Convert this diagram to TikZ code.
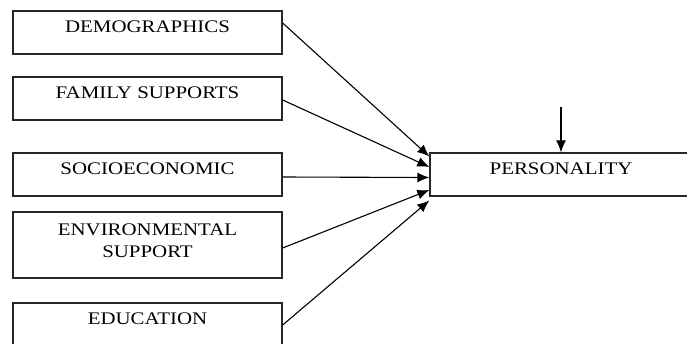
\documentclass[tikz,border=0pt]{standalone}
\usepackage{fontspec}
\setmainfont{Liberation Serif}[FakeStretch=1.18]
\usetikzlibrary{arrows.meta,calc}

\begin{document}
\begin{tikzpicture}[x=1pt, y=-1pt, >={Latex[length=12pt,width=10pt]},
  box/.style={draw=black!85, line width=1.3pt, minimum width=269pt, inner ysep=0pt,
    font=\fontsize{17.7}{22}\selectfont, text height=21.3pt, text depth=21.7pt},
  link/.style={->, line width=1.1pt}]
\useasboundingbox (0,0) rectangle (687,343);
\clip (0,0) rectangle (687,343);
\node[box](demo) at(147.5, 32.5) {DEMOGRAPHICS};
\node[box](family) at(147.5, 98.5) {FAMILY SUPPORTS};
\node[box](socio) at(147.5, 174.5) {SOCIOECONOMIC};
\node[box, align=center, text height=45pt, text depth=21pt](env) at(147.5, 245) {ENVIRONMENTAL\\SUPPORT};
\node[box](edu) at(147.5, 324.5) {EDUCATION};
\node[box, minimum width=262pt](pers) at(561, 174.5) {PERSONALITY};
\coordinate(above) at(561, 107);
\draw[link] ($(demo.east)+(0,-9.5)$)--($(pers.west)+(0,-18)$);
\draw[link] ($(family.east)+(0,1.5)$)--($(pers.west)+(0,-7.5)$);
\draw[link] ($(socio.east)+(0,2.5)$)--($(pers.west)+(0,3)$);
\draw[link] ($(env.east)+(0,3)$)--($(pers.west)+(0,15.5)$);
\draw[link] ($(edu.east)+(0,0.5)$)--($(pers.west)+(0,26)$);
\draw[link] (above)--(pers.north);
\end{tikzpicture}
\end{document}
